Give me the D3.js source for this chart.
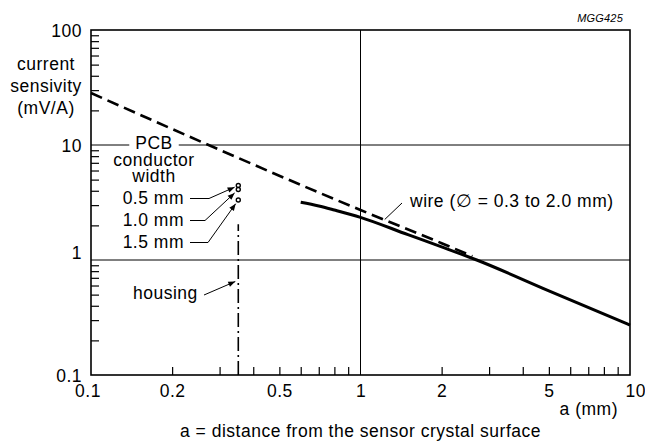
<!DOCTYPE html>
<html><head><meta charset="utf-8">
<script src="https://cdn.jsdelivr.net/npm/d3@7"></script>
<style>
body{margin:0;background:#fff}
text{font-family:"Liberation Sans",Arial,Helvetica,sans-serif;font-size:17.5px;letter-spacing:0.5px;fill:#000}
</style>
</head><body><svg id="c" width="645" height="446"></svg>
<script>
// ---- data ----
const wireX = [0.6, 0.7, 0.8, 1, 1.5, 2, 2.7, 5, 10];
const wireY = [3.18, 2.95, 2.72, 2.35, 1.66, 1.30, 1.0, 0.54, 0.272];
const nearX = [0.1, 1, 2, 2.6];
const nearY = [28.3, 2.72, 1.40, 1.08];
const pcbLabels = ["0.5 mm", "1.0 mm", "1.5 mm"];
const pcbX = [0.352, 0.352, 0.352];
const pcbY = [4.44, 4.1, 3.32];
const housingX = [0.352, 0.352];
const housingY = [0.1, 2.05];
const xTickValues = [0.1, 0.2, 0.5, 1, 2, 5, 10];
const xTickLabels = ["0.1", "0.2", "0.5", "1", "2", "5", "10"];
const yTickValues = [0.1, 1, 10, 100];
const yTickLabels = ["0.1", "1", "10", "100"];
const yTitle = ["current", "sensivity", "(mV/A)"];

// ---- layout ----
const svg = d3.select("#c");
const L = 91, R = 630, T = 30, B = 375;
const x = d3.scaleLog().domain([0.1, 10]).range([L, R]);
const y = d3.scaleLog().domain([0.1, 100]).range([B, T]);

svg.append("defs").append("marker").attr("id", "arr")
  .attr("viewBox", "0 0 10 10").attr("refX", 10).attr("refY", 5)
  .attr("markerWidth", 9).attr("markerHeight", 7).attr("markerUnits", "userSpaceOnUse")
  .attr("orient", "auto")
  .append("path").attr("d", "M0,1 L10,5 L0,9 Z").attr("fill", "#000");

// grid
const g = svg.append("g");
[1, 10].forEach(v => g.append("line").attr("x1", L).attr("x2", R).attr("y1", y(v)).attr("y2", y(v))
  .attr("stroke", "#000").attr("stroke-width", 1));
g.append("line").attr("x1", x(1)).attr("x2", x(1)).attr("y1", T).attr("y2", B)
  .attr("stroke", "#000").attr("stroke-width", 1);

// minor ticks (inside)
const pow10 = v => Math.abs(Math.log10(v) - Math.round(Math.log10(v))) < 1e-9;
const xMinor = x.ticks().filter(v => !pow10(v));
const yMinor = y.ticks().filter(v => !pow10(v));
const ax = svg.append("g").attr("transform", `translate(0,${B})`)
  .call(d3.axisBottom(x).tickValues(xMinor).tickSize(-8).tickFormat(""));
const ay = svg.append("g").attr("transform", `translate(${L},0)`)
  .call(d3.axisLeft(y).tickValues(yMinor).tickSize(-8).tickFormat(""));
[ax, ay].forEach(a => { a.select(".domain").remove(); a.selectAll("line").attr("stroke", "#000").attr("stroke-width", 1.2); });

// major labels
const axL = svg.append("g").attr("transform", `translate(0,${B})`)
  .call(d3.axisBottom(x).tickValues(xTickValues).tickSize(0).tickPadding(10)
    .tickFormat((d, i) => xTickLabels[i]));
const ayL = svg.append("g").attr("transform", `translate(${L},0)`)
  .call(d3.axisLeft(y).tickValues(yTickValues).tickSize(0).tickPadding(9)
    .tickFormat((d, i) => yTickLabels[i]));
[axL, ayL].forEach(a => { a.select(".domain").remove(); a.attr("font-size", null).attr("font-family", null);
  a.selectAll("text").attr("fill", "#000"); });
ayL.selectAll("text").attr("dy", d => d === 1 ? "-0.1em" : "0.36em");
axL.selectAll("text").attr("dx", d => d === 10 ? "0.3em" : (d === 0.1 ? "-0.2em" : 0));

// frame
svg.append("rect").attr("x", L).attr("y", T).attr("width", R - L).attr("height", B - T)
  .attr("fill", "none").attr("stroke", "#000").attr("stroke-width", 1.6);

// PCB heading (white box breaks the 10 grid line)
const pcbHeadG = svg.append("g");
const pcbHead = pcbHeadG.append("text").attr("x", 154).attr("y", 149).attr("text-anchor", "middle").text("PCB");
const bb = pcbHead.node().getBBox();
pcbHeadG.insert("rect", "text").attr("x", bb.x - 6).attr("y", y(10) - 3).attr("width", bb.width + 12).attr("height", 6).attr("fill", "#fff");
svg.append("text").attr("x", 154).attr("y", 166).attr("text-anchor", "middle").text("conductor");
svg.append("text").attr("x", 154).attr("y", 182).attr("text-anchor", "middle").text("width");

// near-field dashed line
svg.append("path").datum(d3.zip(nearX, nearY))
  .attr("d", d3.line().x(d => x(d[0])).y(d => y(d[1])).curve(d3.curveMonotoneX))
  .attr("fill", "none").attr("stroke", "#000").attr("stroke-width", 2.6).attr("stroke-dasharray", "12,6");
// wire solid line
svg.append("path").datum(d3.zip(wireX, wireY))
  .attr("d", d3.line().x(d => x(d[0])).y(d => y(d[1])).curve(d3.curveMonotoneX))
  .attr("fill", "none").attr("stroke", "#000").attr("stroke-width", 3);

// housing dash-dot
svg.append("path").datum(d3.zip(housingX, housingY)).attr("d", d3.line().x(d => x(d[0])).y(d => y(d[1])))
  .attr("fill", "none").attr("stroke", "#000").attr("stroke-width", 1.6).attr("stroke-dasharray", "14,4,2,4");

// PCB points
svg.selectAll("circle.pcb").data(d3.zip(pcbX, pcbY)).join("circle").attr("class", "pcb")
  .attr("cx", d => x(d[0])).attr("cy", d => y(d[1])).attr("r", 2)
  .attr("fill", "#fff").attr("stroke", "#000").attr("stroke-width", 1.4);

// PCB labels with leaders
const pcbText = svg.append("g");
const labBase = [204, 226, 248];
const bendX = [209, 205, 208];
const tipBack = [4, 5, 4.5];
pcbLabels.forEach((t, i) => {
  pcbText.append("text").attr("x", 184).attr("y", labBase[i]).attr("text-anchor", "end").text(t);
  const cx = x(pcbX[i]), cy = y(pcbY[i]);
  const hy = labBase[i] - 5.5;
  const dx = cx - bendX[i], dy = cy - hy, len = Math.hypot(dx, dy);
  const tx = cx - dx / len * tipBack[i], ty = cy - dy / len * tipBack[i];
  pcbText.append("path").attr("d", `M190,${hy} L${bendX[i]},${hy} L${tx},${ty}`)
    .attr("fill", "none").attr("stroke", "#000").attr("stroke-width", 1).attr("marker-end", "url(#arr)");
});

// housing label
svg.append("text").attr("x", 133).attr("y", 299).text("housing");
svg.append("line").attr("x1", 204).attr("y1", 295).attr("x2", x(housingX[0]) - 3).attr("y2", y(0.65))
  .attr("stroke", "#000").attr("stroke-width", 1).attr("marker-end", "url(#arr)");

// wire label
svg.append("text").attr("x", 410).attr("y", 207).text("wire (\u2205 = 0.3 to 2.0 mm)");
svg.append("line").attr("x1", 402).attr("y1", 203).attr("x2", x(1.23)).attr("y2", y(2.25))
  .attr("stroke", "#000").attr("stroke-width", 1);

// axis titles
svg.append("g").selectAll("text").data(yTitle).join("text")
  .attr("x", 46).attr("y", (d, i) => 70 + i * 22).attr("text-anchor", "middle").text(d => d);
svg.append("text").attr("x", 618).attr("y", 415).attr("text-anchor", "end").text("a (mm)");
svg.append("text").attr("x", x(1)).attr("y", 437).attr("text-anchor", "middle").text("a = distance from the sensor crystal surface");
svg.append("text").attr("x", 623).attr("y", 21.5).attr("text-anchor", "end")
  .style("font-size", "11px").style("font-style", "italic").style("letter-spacing", "0.2px").text("MGG425");
</script></body></html>
